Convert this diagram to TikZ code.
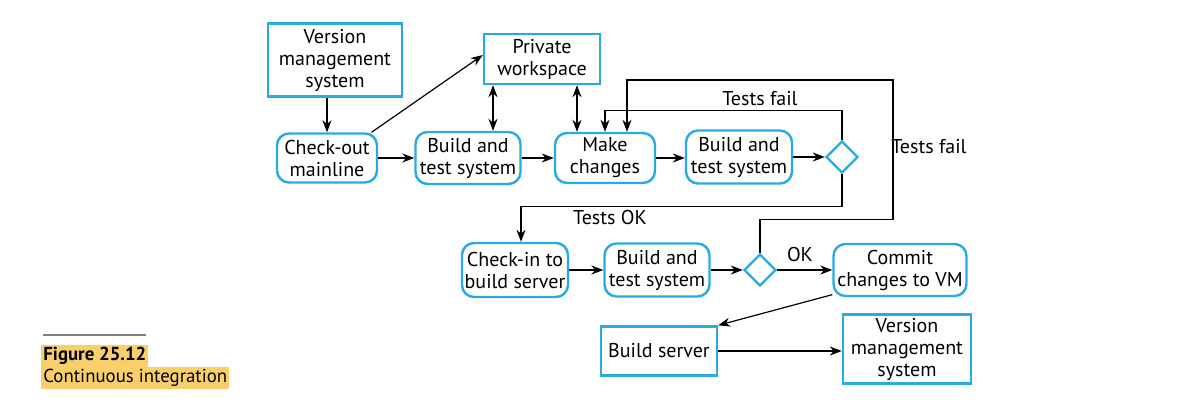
\documentclass[tikz,border=0pt]{standalone}
\usepackage{fontspec}
\setmainfont{PT Sans}
\usetikzlibrary{arrows.meta,shapes.geometric}
\definecolor{boxcyan}{HTML}{29ABE2}
\definecolor{capyellow}{HTML}{F9CF6B}
\tikzset{
  proc/.style={draw=boxcyan,line width=1.2pt,rounded corners=6pt,align=center,
    inner sep=1pt,font=\fontsize{10}{11}\selectfont},
  store/.style={draw=boxcyan,line width=1.2pt,align=center,inner sep=1pt,
    font=\fontsize{10}{11}\selectfont},
  decis/.style={draw=boxcyan,line width=1.2pt,diamond,minimum size=16pt,inner sep=0pt},
  arr/.style={-{Stealth[length=6pt,width=4.5pt]},line width=0.6pt},
  dbl/.style={{Stealth[length=6pt,width=4.5pt]}-{Stealth[length=6pt,width=4.5pt]},line width=0.6pt},
  lbl/.style={font=\fontsize{10}{11}\selectfont,inner sep=0pt}
}
\begin{document}
\begin{tikzpicture}[x=0.5pt,y=-0.5pt]
  \useasboundingbox (0,0) rectangle (1180,408);
  % top row
  \node[store,minimum width=67pt,minimum height=36.5pt] (vms) at (335,60) {Version\\management\\system};
  \node[store,minimum width=58pt,minimum height=25pt] (pws) at (542,59) {Private\\workspace};
  % second row
  \node[proc,minimum width=50pt,minimum height=24.5pt] (chk) at (327,158) {Check-out\\mainline};
  \node[proc,minimum width=52.5pt,minimum height=26pt] (bld1) at (468,158) {Build and\\test system};
  \node[proc,minimum width=50pt,minimum height=25pt] (mk) at (605,158) {Make\\changes};
  \node[proc,minimum width=53pt,minimum height=26.5pt] (bld2) at (739,157) {Build and\\test system};
  \node[decis] (dec1) at (842,157) {};
  % third row
  \node[proc,minimum width=53pt,minimum height=27pt] (cin) at (515,270) {Check-in to\\build server};
  \node[proc,minimum width=52.5pt,minimum height=26.5pt] (bld3) at (657,270) {Build and\\test system};
  \node[decis] (dec2) at (760,270) {};
  \node[proc,minimum width=66.5pt,minimum height=26pt] (cmt) at (900,270) {Commit\\changes to VM};
  % bottom row
  \node[store,minimum width=58pt,minimum height=24.5pt] (bsv) at (659,351) {Build server};
  \node[store,minimum width=64pt,minimum height=34.5pt] (vms2) at (907,349) {Version\\management\\system};
  % labels
  \node[lbl] (fail1) at (760,99) {Tests fail};
  \node[lbl] (fail2) at (929,147) {Tests fail};
  \node[lbl] (okay) at (610,217) {Tests OK};
  \node[lbl] (ok) at (800,254) {OK};
  % helper points
  \coordinate (wa) at ([xshift=12.5pt]bld1.north);
  \coordinate (wb) at ([xshift=-14pt]mk.north);
  \coordinate (mkb) at ([xshift=11pt]mk.north);
  \coordinate (cinb) at ([xshift=3pt]cin.north);
  \coordinate (corner) at (893,80);
  % connectors
  \draw[arr] (chk.north |- vms.south) -- (chk.north);
  \draw[arr] (chk.30) -- ([yshift=2pt]pws.west);
  \draw[arr] (chk) -- (bld1);
  \draw[arr] (bld1) -- (mk);
  \draw[arr] (mk.east) -- (mk.east -| bld2.west);
  \draw[arr] (bld2) -- (dec1);
  \draw[dbl] (wa |- pws.south) -- (wa);
  \draw[dbl] (wb |- pws.south) -- (wb);
  \draw[arr] (dec1.north) -- ++(0,-29) -| (mk.north);
  \draw[arr] (dec1.south) -- ++(0,32) -| (cinb);
  \draw[arr] (cin) -- (bld3);
  \draw[arr] (bld3) -- (dec2);
  \draw[arr] (dec2) -- (cmt);
  \draw[arr] (dec2.north) -- ++(0,-33) -| (corner) -| (mkb);
  \draw[arr] (cmt.200) -- (bsv.north east);
  \draw[arr] (bsv.east) -- (bsv.east -| vms2.west);
  % caption
  \draw[gray,line width=0.6pt] (43,335) coordinate (rl) -- (146,335) coordinate (rr);
  \node[fill=capyellow,anchor=north west,inner sep=1pt,font=\fontsize{9.4}{12}\selectfont\bfseries] (fig) at (41,345) {Figure 25.12};
  \node[fill=capyellow,anchor=north west,inner sep=1pt,font=\fontsize{9.4}{12}\selectfont] (captxt) at (41,367) {Continuous integration};
\end{tikzpicture}
\end{document}
